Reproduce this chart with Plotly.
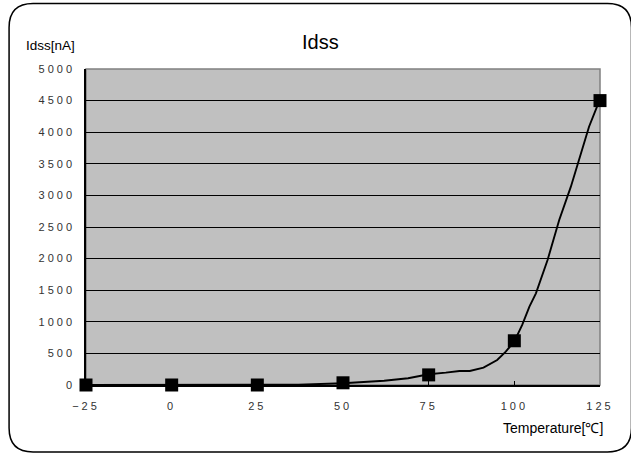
import plotly.graph_objects as go

# measured points (markers)
temp_points = [-25, 0, 25, 50, 75, 100, 125]
idss_points = [0, 0, 0, 35, 160, 700, 4500]

# continuous measured curve
temp_curve = [-25, 0, 25, 37, 50, 62, 69, 75, 80, 84, 87, 91, 95, 97.5, 100,
              102.3, 104.4, 106.3, 109.7, 113.1, 116.5, 118.9, 121.8, 124.5, 125]
idss_curve = [0, 0, 0, 5, 27, 68, 106, 170, 195, 221, 221, 274, 396, 527, 690,
              950, 1240, 1450, 1978, 2611, 3138, 3560, 4087, 4457, 4500]

x_ticks = [-25, 0, 25, 50, 75, 100, 125]
y_ticks = list(range(0, 5001, 500))

W, H = 631, 455
# plot area in page pixels: x 86..600.5, y 68.5..385
L, T = 86, 68.5
R = W - 600.5
B = H - 385
PW, PH = W - L - R, H - T - B


def px(x):
    return (x - L) / PW


def py(y):
    return (H - B - y) / PH


fig = go.Figure()
fig.add_trace(go.Scatter(x=temp_curve, y=idss_curve, mode="lines",
                         line=dict(color="black", width=1.9), hoverinfo="skip",
                         showlegend=False))
fig.add_trace(go.Scatter(x=temp_points, y=idss_points, mode="markers",
                         marker=dict(symbol="square", size=13, color="black"),
                         cliponaxis=False, showlegend=False))

# rounded frame (page pixel coords)
x0, y0, x1, y1, r = 9, 3, 632, 452, 24
path = (f"M {px(x0 + r)},{py(y0)} L {px(x1 - r)},{py(y0)} "
        f"Q {px(x1)},{py(y0)} {px(x1)},{py(y0 + r)} "
        f"L {px(x1)},{py(y1 - r)} Q {px(x1)},{py(y1)} {px(x1 - r)},{py(y1)} "
        f"L {px(x0 + r)},{py(y1)} Q {px(x0)},{py(y1)} {px(x0)},{py(y1 - r)} "
        f"L {px(x0)},{py(y0 + r)} Q {px(x0)},{py(y0)} {px(x0 + r)},{py(y0)} Z")

fig.update_layout(
    width=W, height=H,
    margin=dict(l=L, r=R, t=T, b=B),
    paper_bgcolor="white",
    plot_bgcolor="#C0C0C0",
    font=dict(family="Liberation Sans, Arial, sans-serif", color="#333", size=11),
    shapes=[
        dict(type="path", path=path, xref="paper", yref="paper",
             line=dict(color="black", width=1.5), layer="below"),
        dict(type="rect", x0=0, x1=1, y0=0, y1=1, xref="paper", yref="paper",
             line=dict(color="#808080", width=1.5), layer="below"),
    ],
    annotations=[
        dict(text="Idss", x=px(321), y=py(41), xref="paper", yref="paper",
             showarrow=False, font=dict(size=20, color="black"),
             xanchor="center", yanchor="middle"),
        dict(text="Idss[nA]", x=px(50.5), y=py(45), xref="paper", yref="paper",
             showarrow=False, font=dict(size=13.5, color="black"),
             xanchor="center", yanchor="middle"),
        dict(text="Temperature[℃]", x=px(553), y=py(428), xref="paper", yref="paper",
             showarrow=False, font=dict(size=14, color="black"),
             xanchor="center", yanchor="middle"),
    ],
    xaxis=dict(range=[-25, 125], tickvals=x_ticks,
               ticktext=["−25" if v < 0 else str(v) for v in x_ticks],
               showgrid=False, zeroline=False, showline=True, linecolor="black",
               linewidth=1.5, ticks="inside", ticklen=4, tickcolor="black",
               ticklabelstandoff=10),
    yaxis=dict(range=[0, 5000], tickvals=y_ticks, showgrid=True,
               gridcolor="black", gridwidth=1, zeroline=False, showline=True,
               linecolor="black", linewidth=1.5, ticks="",
               ticklabelstandoff=7),
)

post = """
document.body.style.margin = '0';
function spaceTicks() {
  document.querySelectorAll('.xtick text, .ytick text').forEach(function (t) {
    t.style.letterSpacing = '3px';
  });
}
spaceTicks();
var gd = document.getElementById('{plot_id}');
gd.on('plotly_afterplot', spaceTicks);
"""

fig.write_html("out.html", post_script=post, config={"displayModeBar": False})
